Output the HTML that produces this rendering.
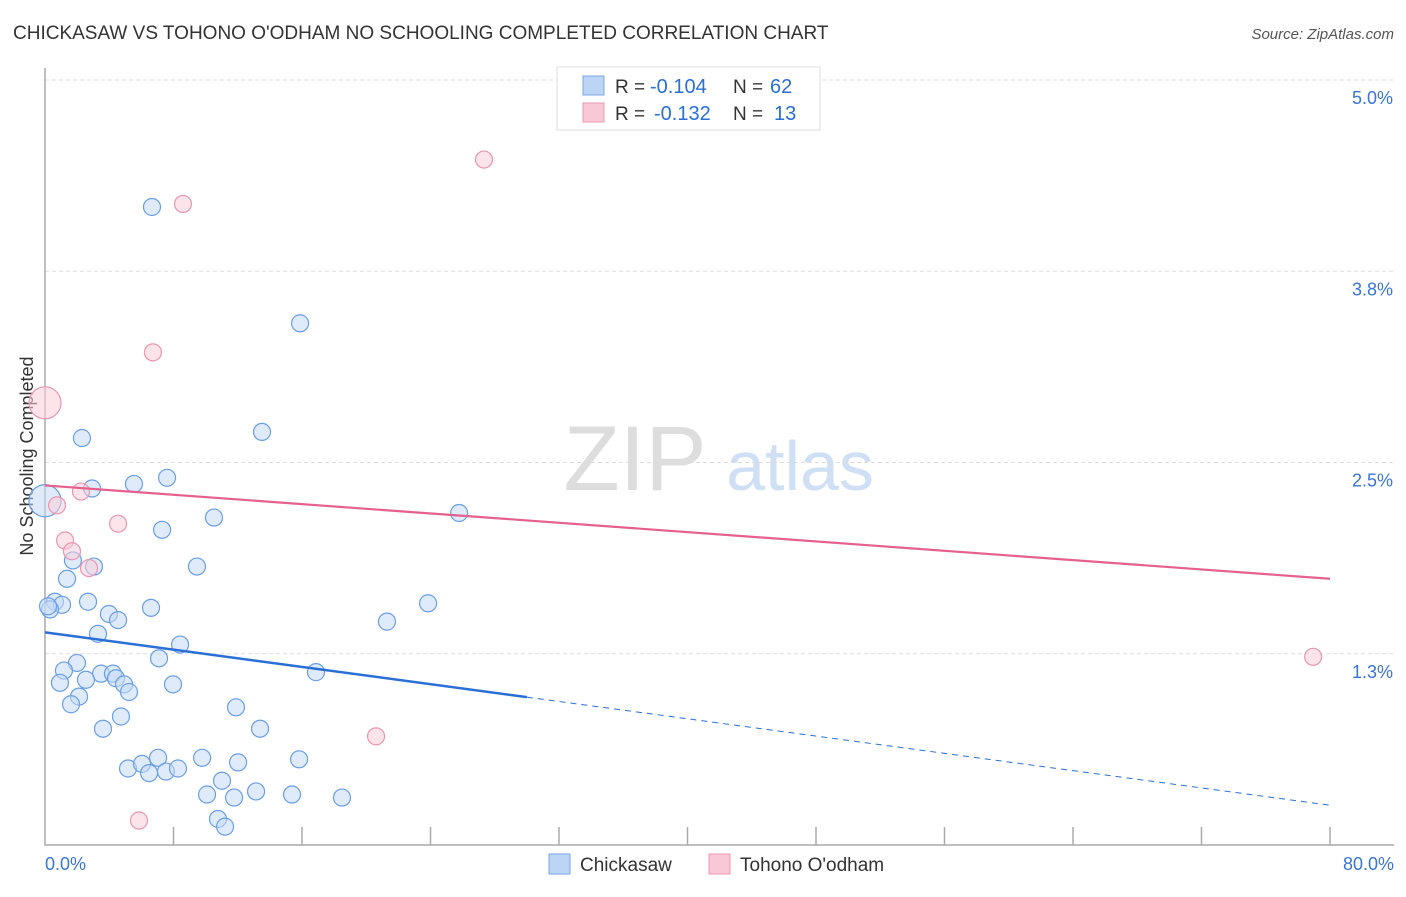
<!DOCTYPE html>
<html><head><meta charset="utf-8"><style>
body{margin:0;background:#fff;font-family:"Liberation Sans",sans-serif}
svg text{font-family:"Liberation Sans",sans-serif}
</style></head><body>
<svg width="1406" height="892" id="c">
<text x="13" y="39" font-size="19" fill="#333">CHICKASAW VS TOHONO O'ODHAM NO SCHOOLING COMPLETED CORRELATION CHART</text>
<text x="1394" y="39" font-size="15" fill="#555" font-style="italic" text-anchor="end">Source: ZipAtlas.com</text>
<text x="33" y="456" font-size="18" fill="#333" text-anchor="middle" transform="rotate(-90 33 456)">No Schooling Completed</text>
<text x="635" y="490" font-size="92" fill="#ddd" font-family="Liberation Serif" text-anchor="middle">ZIP</text>
<text x="800" y="490" font-size="70" fill="#cfe0f5" text-anchor="middle">atlas</text>
<g id="grid"></g><g id="axes"></g><g id="pts"></g><g id="trend"></g>
<g>
<rect x="557" y="67" width="263" height="63" fill="#fff" stroke="#ddd"/>
<rect x="583" y="76" width="21" height="19" fill="#bcd5f5" stroke="#7aa7e3"/>
<rect x="583" y="103" width="21" height="19" fill="#f9c8d6" stroke="#eb98b2"/>
<text x="615" y="93" font-size="19" fill="#333">R =</text>
<text x="650" y="93" font-size="20" fill="#2a6fd6">-0.104</text>
<text x="733" y="93" font-size="19" fill="#333">N =</text>
<text x="770" y="93" font-size="20" fill="#2a6fd6">62</text>
<text x="615" y="120" font-size="19" fill="#333">R =</text>
<text x="654" y="120" font-size="20" fill="#2a6fd6">-0.132</text>
<text x="733" y="120" font-size="19" fill="#333">N =</text>
<text x="774" y="120" font-size="20" fill="#2a6fd6">13</text>
</g>
<g>
<rect x="549" y="854" width="21" height="20" fill="#bcd5f5" stroke="#7aa7e3"/>
<text x="580" y="871" font-size="19" fill="#333">Chickasaw</text>
<rect x="709" y="854" width="21" height="20" fill="#f9c8d6" stroke="#eb98b2"/>
<text x="740" y="871" font-size="19" fill="#333">Tohono O'odham</text>
</g>
</svg>
<script>
const blueX=[6.66,15.88,2.30,13.51,7.60,5.54,2.93,10.52,25.78,7.29,1.74,3.05,9.46,1.37,0.62,1.06,0.31,2.68,6.60,23.85,3.98,4.55,21.29,3.30,8.41,7.10,1.99,1.18,3.49,4.23,4.42,4.92,5.23,7.97,0.93,2.55,16.87,2.12,1.62,11.89,4.73,3.61,13.39,7.04,9.78,5.17,6.04,6.48,7.53,8.28,12.02,15.82,11.02,10.09,11.77,13.14,15.38,18.49,10.77,11.21,0,0.19];
const blueY=[4.17,3.41,2.66,2.70,2.40,2.36,2.33,2.14,2.17,2.06,1.86,1.82,1.82,1.74,1.59,1.57,1.54,1.59,1.55,1.58,1.51,1.47,1.46,1.38,1.31,1.22,1.19,1.14,1.12,1.12,1.09,1.05,1.00,1.05,1.06,1.08,1.13,0.97,0.92,0.90,0.84,0.76,0.76,0.57,0.57,0.50,0.53,0.47,0.48,0.50,0.54,0.56,0.42,0.33,0.31,0.35,0.33,0.31,0.17,0.12,2.25,1.56];
const pinkX=[8.59,27.33,6.72,0,2.24,0.75,4.55,1.25,1.68,2.74,78.95,20.61,5.85];
const pinkY=[4.19,4.48,3.22,2.89,2.31,2.22,2.10,1.99,1.92,1.81,1.23,0.71,0.16];
const yTicks=[1.25,2.5,3.75,5.0];
const yTickLabels=["1.3%","2.5%","3.8%","5.0%"];
const xTickLabels=["0.0%","80.0%"];
const blueTrend=[1.39,0.26];
const pinkTrend=[2.35,1.74];
const X0=45,X1=1330,Y0=845,Y1=80;
const sx=v=>X0+v/80*(X1-X0), sy=v=>Y0-v/5*(Y0-Y1);
const NS="http://www.w3.org/2000/svg";
function mk(t,a,p){const e=document.createElementNS(NS,t);for(const k in a)e.setAttribute(k,a[k]);p.appendChild(e);return e;}
const grid=document.getElementById('grid'),axes=document.getElementById('axes'),pts=document.getElementById('pts'),tr=document.getElementById('trend');
yTicks.forEach((v,i)=>{
 const l=mk('line',{x1:X0,x2:1394,y1:sy(v),y2:sy(v),stroke:'#ddd','stroke-dasharray':'4,3'},grid);
 
 
 const t=mk('text',{x:1393,y:sy(v)+24,'font-size':18,fill:'#3a75d6','text-anchor':'end'},grid);
 t.textContent=yTickLabels[i];
 
 
});
const ax=mk('path',{d:`M${X0} 68V${Y0}H1394`,fill:'none',stroke:'#aaa','stroke-width':1.5},axes);


for(let i=1;i<=10;i++){const x=sx(i*8);const t=mk('line',{x1:x,x2:x,y1:Y0,y2:Y0-18,stroke:'#aaa','stroke-width':1.5},axes);
 
 }
[[0,'start',X0],[80,'end',1394]].forEach((d,i)=>{const t=mk('text',{x:d[2],y:870,'font-size':18,fill:'#3a75d6','text-anchor':d[1]},axes);t.textContent=xTickLabels[i];
 
 });
function dots(xs,ys,fill,stroke,name){xs.forEach((x,i)=>{const big=(x===0);
 const c=mk('circle',{cx:sx(x),cy:sy(ys[i]),r:big?16:8.5,fill:fill,'fill-opacity':0.55,stroke:stroke,'stroke-width':1.2},pts);
 
 });}
dots(blueX,blueY,'#c4daf6','#6a9ee6','chickasaw-point');
dots(pinkX,pinkY,'#f9cdd9','#e996b0','tohono-point');
const bAt=x=>blueTrend[0]+(blueTrend[1]-blueTrend[0])*x/80;
const bl=mk('line',{x1:sx(0),y1:sy(bAt(0)),x2:sx(30),y2:sy(bAt(30)),stroke:'#2a6fd6','stroke-width':2.5},tr);


const bd=mk('line',{x1:sx(30),y1:sy(bAt(30)),x2:sx(80),y2:sy(bAt(80)),stroke:'#2a6fd6','stroke-width':1,'stroke-dasharray':'6,5'},tr);


const pl=mk('line',{x1:sx(0),y1:sy(pinkTrend[0]),x2:sx(80),y2:sy(pinkTrend[1]),stroke:'#e5608c','stroke-width':2.2},tr);


</script>
</body></html>
